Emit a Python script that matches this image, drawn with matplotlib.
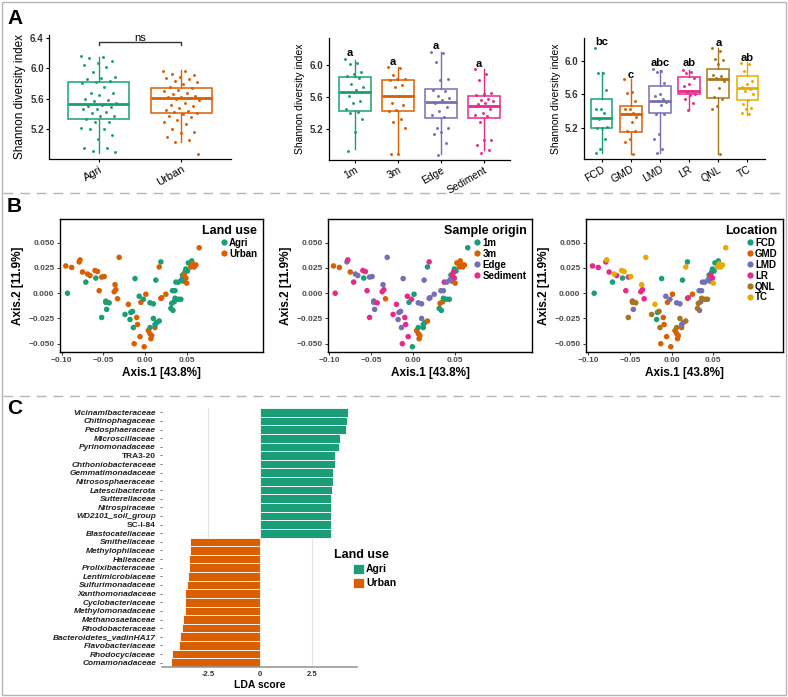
import numpy as np
import matplotlib
matplotlib.use("Agg")
import matplotlib.pyplot as plt
from matplotlib.lines import Line2D
from matplotlib.patches import Rectangle

plt.rcParams['font.family'] = ['Liberation Sans', 'DejaVu Sans']

W, H = 788, 697

GREEN, ORANGE, PURPLE = '#1B9E77', '#D95F02', '#7570B3'
PINK, BROWN, YELLOW = '#E7298A', '#A6761D', '#E6AB02'

# ---- panel A: Shannon diversity ----
# box stats: (whislo, q1, median, q3, whishi)
landuse = ['Agri', 'Urban']
landuse_box = [(4.89, 5.34, 5.53, 5.825, 6.15), (5.03, 5.42, 5.61, 5.74, 5.98)]
agri_pts = [6.16, 6.15, 6.13, 6.10, 6.07, 6.04, 6.02, 5.95, 5.88, 5.87, 5.86, 5.83, 5.82,
            5.81, 5.76, 5.68, 5.67, 5.65, 5.60, 5.59, 5.57, 5.55, 5.52, 5.50, 5.49, 5.47,
            5.46, 5.43, 5.41, 5.38, 5.37, 5.34, 5.30, 5.29, 5.22, 5.21, 5.20, 5.13, 5.07,
            4.95, 4.95, 4.91, 4.90]
urban_pts = [5.97, 5.96, 5.92, 5.91, 5.89, 5.87, 5.86, 5.84, 5.82, 5.80, 5.76, 5.74, 5.72,
             5.70, 5.68, 5.66, 5.64, 5.63, 5.62, 5.61, 5.60, 5.58, 5.55, 5.52, 5.50, 5.48,
             5.45, 5.44, 5.43, 5.42, 5.40, 5.38, 5.36, 5.32, 5.30, 5.27, 5.20, 5.16, 5.15,
             5.10, 5.06, 5.03, 4.88]

origins = ['1m', '3m', 'Edge', 'Sediment']
origin_box = [(4.95, 5.43, 5.67, 5.855, 6.06), (4.89, 5.43, 5.62, 5.81, 5.98),
              (4.89, 5.34, 5.535, 5.70, 6.16), (4.94, 5.34, 5.49, 5.62, 5.95)]
origin_pts = [
    [6.07, 6.03, 6.01, 5.91, 5.89, 5.86, 5.84, 5.76, 5.73, 5.69, 5.62, 5.55, 5.53, 5.45,
     5.42, 5.40, 5.33, 5.17, 4.93],
    [5.98, 5.96, 5.87, 5.83, 5.82, 5.81, 5.75, 5.72, 5.62, 5.61, 5.53, 5.50, 5.44, 5.43,
     5.33, 5.29, 5.21, 4.89, 4.89],
    [6.16, 6.15, 6.04, 5.82, 5.81, 5.69, 5.68, 5.62, 5.59, 5.56, 5.53, 5.48, 5.43, 5.38,
     5.35, 5.22, 5.21, 5.16, 5.14, 5.03, 4.88],
    [5.95, 5.89, 5.81, 5.65, 5.64, 5.63, 5.58, 5.57, 5.55, 5.53, 5.51, 5.45, 5.40, 5.38,
     5.36, 5.29, 5.07, 5.07, 5.01, 4.94, 4.90],
]
origin_letters = ['a', 'a', 'a', 'a']
origin_letter_y = [6.145, 6.04, 6.23, 6.01]

sites = ['FCD', 'GMD', 'LMD', 'LR', 'QNL', 'TC']
site_box = [(4.90, 5.20, 5.32, 5.54, 5.87), (4.88, 5.15, 5.36, 5.46, 5.78),
            (4.90, 5.38, 5.52, 5.70, 5.89), (5.41, 5.60, 5.64, 5.81, 5.89),
            (4.89, 5.56, 5.78, 5.90, 6.16), (5.35, 5.53, 5.68, 5.82, 5.99)]
site_pts = [
    [6.16, 5.86, 5.85, 5.65, 5.43, 5.42, 5.38, 5.30, 5.21, 5.20, 5.20, 5.06, 4.95, 4.90],
    [5.78, 5.63, 5.61, 5.52, 5.43, 5.42, 5.38, 5.36, 5.33, 5.27, 5.16, 5.16, 5.07, 5.03, 4.88],
    [5.90, 5.88, 5.87, 5.74, 5.60, 5.58, 5.54, 5.52, 5.51, 5.47, 5.37, 5.36, 5.12, 5.07,
     4.94, 4.90],
    [5.89, 5.87, 5.85, 5.80, 5.72, 5.70, 5.64, 5.63, 5.60, 5.59, 5.55, 5.50, 5.41],
    [6.15, 6.12, 6.02, 6.01, 5.96, 5.83, 5.82, 5.80, 5.76, 5.67, 5.57, 5.54, 5.46, 5.43, 4.89],
    [5.98, 5.96, 5.88, 5.76, 5.72, 5.69, 5.66, 5.64, 5.60, 5.53, 5.48, 5.44, 5.43, 5.38, 5.36],
]
site_letters = ['bc', 'c', 'abc', 'ab', 'a', 'ab']
site_letter_y = [6.23, 5.83, 5.97, 5.97, 6.22, 6.04]

# ---- panel B: PCoA ----
pc1 = [-0.093, -0.071, -0.059, -0.012, 0.013, 0.019, -0.017, -0.018, 0.045, 0.049, 0.052, 0.056, 0.051, 0.048,
       -0.013, -0.006, -0.009, -0.010, -0.005, 0.001, -0.001, 0.004, 0.006, 0.007, 0.008, 0.012, 0.019, 0.025,
       -0.046, -0.047, -0.007, -0.002, 0.006, 0.010, 0.012, 0.014, 0.0335, 0.035, 0.037, 0.040, 0.044, 0.046, 0.033, 0.036,
       -0.095, -0.088, -0.079, -0.075, -0.066, -0.055, -0.052, -0.047, -0.037, -0.035, -0.033, 0.020, 0.047, 0.049,
       -0.052, -0.047, -0.043, -0.024, -0.015, -0.014, 0.006, 0.010, 0.017, 0.031, 0.032, 0.036, 0.040, 0.043,
       -0.078, -0.069, -0.060, -0.057, -0.049, -0.036, -0.031, -0.020, 0.017, 0.050, 0.055, 0.061, 0.065, 0.059, 0.057]
pc2 = [0.000, 0.011, 0.015, 0.0145, 0.013, 0.031, -0.019, -0.026, 0.018, 0.024, 0.030, 0.032, 0.022, 0.021,
       -0.050, -0.043, -0.031, -0.024, -0.009, -0.001, -0.053, -0.037, -0.040, -0.045, -0.042, -0.034, -0.005, -0.001,
       -0.016, -0.008, -0.003, -0.006, -0.0095, -0.0105, -0.031, -0.029, -0.017, -0.0085, 0.011, 0.011, 0.0135, 0.012, 0.0025, 0.0025,
       0.027, 0.0255, 0.031, 0.021, 0.0175, 0.0025, 0.016, -0.008, 0.0015, 0.0035, -0.0055, -0.0045, 0.018, 0.015,
       -0.024, -0.009, -0.0095, -0.021, -0.018, -0.034, -0.034, -0.025, -0.0275, -0.015, -0.010, -0.005, -0.006, -0.006,
       0.033, 0.019, 0.0225, 0.0215, 0.0165, 0.0085, 0.0355, -0.011, 0.026, 0.010, 0.026, 0.028, 0.045, 0.026, 0.029]
pc_site = ['FCD'] * 14 + ['GMD'] * 14 + ['LMD'] * 16 + ['LR'] * 14 + ['QNL'] * 14 + ['TC'] * 15
pc_origin = ['Sediment', 'Sediment', '1m', 'Edge', 'Edge', 'Sediment', 'Edge', 'Edge', '1m', '1m', '3m', '3m', '1m', 'Sediment',
             'Sediment', 'Sediment', 'Sediment', 'Sediment', '1m', '1m', '1m', '3m', '3m', '3m', '3m', '1m', 'Edge', 'Edge',
             'Edge', 'Edge', 'Sediment', 'Sediment', 'Edge', 'Edge', '1m', '1m', '1m', '3m', 'Sediment', 'Edge', 'Edge', 'Edge', 'Edge', 'Edge',
             '3m', '3m', 'Edge', '3m', 'Edge', 'Sediment', 'Edge', 'Sediment', 'Sediment', 'Sediment', '3m', 'Edge', 'Sediment', 'Sediment',
             'Sediment', 'Edge', 'Sediment', 'Sediment', 'Edge', 'Edge', '1m', 'Edge', '3m', '1m', '3m', '1m', '1m', '1m',
             'Sediment', 'Edge', 'Sediment', 'Sediment', 'Edge', 'Edge', 'Edge', 'Sediment', '1m', '3m', '3m', '3m', '1m', '3m', '3m']
site_landuse = {'FCD': 'Agri', 'LMD': 'Agri', 'QNL': 'Agri', 'GMD': 'Urban', 'LR': 'Urban', 'TC': 'Urban'}

# ---- panel C: LEfSe ----
taxa = ['Vicinamibacteraceae', 'Chitinophagaceae', 'Pedosphaeraceae', 'Microscillaceae',
        'Pyrinomonadaceae', 'TRA3-20', 'Chthoniobacteraceae', 'Gemmatimonadaceae',
        'Nitrososphaeraceae', 'Latescibacterota', 'Sutterellaceae', 'Nitrospiraceae',
        'WD2101_soil_group', 'SC-I-84', 'Blastocatellaceae',
        'Smithellaceae', 'Methylophilaceae', 'Halieaceae', 'Prolixibacteraceae',
        'Lentimicrobiaceae', 'Sulfurimonadaceae', 'Xanthomonadaceae', 'Cyclobacteriaceae',
        'Methylomonadaceae', 'Methanosaetaceae', 'Rhodobacteraceae', 'Bacteroidetes_vadinHA17',
        'Flavobacteriaceae', 'Rhodocyclaceae', 'Comamonadaceae']
lda = [4.19, 4.17, 4.11, 3.83, 3.77, 3.59, 3.57, 3.48, 3.48, 3.44, 3.40, 3.39, 3.38, 3.38, 3.38,
       -3.34, -3.36, -3.39, -3.41, -3.46, -3.47, -3.57, -3.58, -3.60, -3.69, -3.71, -3.84,
       -3.87, -4.20, -4.28]
upright_taxa = ['TRA3-20', 'SC-I-84']


def px_axes(fig, x0, y0, x1, y1):
    return fig.add_axes([x0 / W, 1 - y1 / H, (x1 - x0) / W, (y1 - y0) / H])


def spread(n, width=0.22):
    # fixed, repeatable horizontal spread for the dots
    return ((np.arange(n) * 0.618034) % 1 - 0.5) * 2 * width


def box_panel(ax, names, stats, points, colors, ylim, yticks, lab_size, tick_size):
    pos = np.arange(1, len(names) + 1)
    bx = [dict(whislo=s[0], q1=s[1], med=s[2], q3=s[3], whishi=s[4], fliers=[]) for s in stats]
    art = ax.bxp(bx, positions=pos, widths=0.74, patch_artist=True, showfliers=False,
                 showcaps=False)
    for i, c in enumerate(colors):
        art['boxes'][i].set(facecolor='white', edgecolor=c, linewidth=1.1, zorder=2)
        art['medians'][i].set(color=c, linewidth=2.0, zorder=2)
        art['whiskers'][2 * i].set(color=c, linewidth=1.0)
        art['whiskers'][2 * i + 1].set(color=c, linewidth=1.0)
    for p, vals, c in zip(pos, points, colors):
        ax.scatter(p + spread(len(vals)), vals, s=4.5, color=c, linewidths=0, zorder=3)
    ax.set_xlim(0.4, len(names) + 0.6)
    ax.set_ylim(*ylim)
    ax.set_yticks(yticks)
    ax.set_yticklabels([f'{t:.1f}' for t in yticks], fontsize=7, fontweight='bold', color='#333333')
    ax.set_xticks(pos)
    ax.set_xticklabels(names, rotation=30, ha='right', rotation_mode='anchor', fontsize=tick_size)
    ax.set_ylabel('Shannon diversity index', fontsize=lab_size, labelpad=3)
    for s in ['top', 'right']:
        ax.spines[s].set_visible(False)
    for s in ['left', 'bottom']:
        ax.spines[s].set_linewidth(0.9)
    ax.tick_params(length=2.5, width=0.8, pad=1.5)
    return pos


def pcoa_panel(ax, groups, order, colors, title, xlim):
    cmap = dict(zip(order, colors))
    ax.scatter(pc1, pc2, s=16, c=[cmap[g] for g in groups], linewidths=0, zorder=2)
    ax.set_xlim(*xlim)
    ax.set_ylim(-0.0577, 0.0732)
    ax.set_xticks([-0.10, -0.05, 0.0, 0.05])
    ax.set_xticklabels(['\u22120.10', '\u22120.05', '0.00', '0.05'])
    ax.set_yticks([-0.05, -0.025, 0.0, 0.025, 0.05])
    ax.set_yticklabels(['\u22120.050', '\u22120.025', '0.000', '0.025', '0.050'])
    for lab in ax.get_xticklabels() + ax.get_yticklabels():
        lab.set_fontsize(6)
        lab.set_fontweight('bold')
        lab.set_color('#4d4d4d')
    ax.tick_params(length=2.5, width=0.7, pad=1.5, color='#333333')
    for s in ax.spines.values():
        s.set_linewidth(1.0)
    ax.set_xlabel('Axis.1 [43.8%]', fontsize=8.5, fontweight='bold', labelpad=2)
    ax.set_ylabel('Axis.2 [11.9%]', fontsize=8.5, fontweight='bold', labelpad=3)
    handles = [Line2D([], [], marker='o', ls='none', markersize=4.5, markeredgewidth=0,
                      color=c, label=g) for g, c in zip(order, colors)]
    ax.legend(handles=handles, title=title, loc='upper right', frameon=False,
              alignment='right', prop={'weight': 'bold', 'size': 7},
              title_fontproperties={'weight': 'bold', 'size': 9},
              handletextpad=0.05, handlelength=1.0, labelspacing=0.1,
              borderaxespad=0.15, borderpad=0.4)


fig = plt.figure(figsize=(W / 100, H / 100), dpi=100)

# ---------- A ----------
ax = px_axes(fig, 49.4, 35, 230.6, 158.5)
box_panel(ax, landuse, landuse_box, [agri_pts, urban_pts], [GREEN, ORANGE],
          (4.817, 6.437), [5.2, 5.6, 6.0, 6.4], 8.5, 8)
ax.plot([1, 1, 2, 2], [6.306, 6.35, 6.35, 6.306], color='#333333', lw=1.0)
ax.text(1.5, 6.40, 'ns', ha='center', va='center', fontsize=8)

ax = px_axes(fig, 328.8, 38.3, 510, 159.5)
pos = box_panel(ax, origins, origin_box, origin_pts, [GREEN, ORANGE, PURPLE, PINK],
                (4.824, 6.332), [5.2, 5.6, 6.0], 7.5, 7.5)
for p, t, y in zip(pos, origin_letters, origin_letter_y):
    ax.text(p - 0.12, y, t, ha='center', va='center', fontsize=8, fontweight='bold')

ax = px_axes(fig, 584, 38.3, 765, 158.7)
pos = box_panel(ax, sites, site_box, site_pts, [GREEN, ORANGE, PURPLE, PINK, BROWN, YELLOW],
                (4.828, 6.272), [5.2, 5.6, 6.0], 7.5, 7.5)
for p, t, y in zip(pos, site_letters, site_letter_y):
    ax.text(p, y, t, ha='center', va='center', fontsize=8, fontweight='bold')

# ---------- B ----------
ax = px_axes(fig, 60, 219.3, 262.7, 351.5)
pcoa_panel(ax, [site_landuse[s] for s in pc_site], landuse, [GREEN, ORANGE], 'Land use',
           (-0.102, 0.1412))
ax = px_axes(fig, 328.3, 219.3, 531.7, 351.5)
pcoa_panel(ax, pc_origin, origins, [GREEN, ORANGE, PURPLE, PINK], 'Sample origin',
           (-0.1012, 0.1412))
ax = px_axes(fig, 586, 219.3, 783, 351.5)
pcoa_panel(ax, pc_site, sites, [GREEN, ORANGE, PURPLE, PINK, BROWN, YELLOW], 'Location',
           (-0.1028, 0.1337))

# ---------- C ----------
ax = px_axes(fig, 162, 408, 357, 667)
ypos = np.arange(len(taxa))[::-1]
bar_colors = [GREEN if v > 0 else ORANGE for v in lda]
ax.barh(ypos, lda, height=1.0, color=bar_colors, edgecolor='white', linewidth=0.6, zorder=2)
ax.set_ylim(-0.5, len(taxa) - 0.5)
ax.set_xlim(-4.69, 4.64)
ax.set_xticks([-2.5, 0, 2.5])
ax.set_xticklabels(['-2.5', '0', '2.5'], fontsize=5.5, fontweight='bold', color='#333333')
ax.set_yticks(ypos)
ax.set_yticklabels(taxa, fontsize=6, fontweight='bold', color='#222222')
for lab in ax.get_yticklabels():
    if lab.get_text() not in upright_taxa:
        lab.set_fontstyle('italic')
ax.grid(axis='x', color='#e3e3e3', linewidth=0.8, zorder=0)
ax.set_axisbelow(True)
for s in ['top', 'right', 'left']:
    ax.spines[s].set_visible(False)
ax.spines['bottom'].set_color('#9a9a9a')
ax.spines['bottom'].set_linewidth(1.2)
ax.tick_params(axis='y', length=1.8, width=0.6, color='#555555', pad=2.5)
ax.tick_params(axis='x', length=0, pad=3)
ax.set_xlabel('LDA score', fontsize=7.5, fontweight='bold', labelpad=1)

# legend for C
fig.text(334 / W, 1 - 555 / H, 'Land use', fontsize=9, fontweight='bold', va='center')
for yk, lab, c in [(563.5, 'Agri', GREEN), (577.5, 'Urban', ORANGE)]:
    fig.add_artist(Rectangle((353 / W, 1 - (yk + 10.5) / H), 10.5 / W, 10.5 / H,
                             facecolor=c, edgecolor='white', lw=0.5, transform=fig.transFigure))
    fig.text(366 / W, 1 - (yk + 6) / H, lab, fontsize=7.5, fontweight='bold', va='center')

# ---------- panel letters, frame, separators ----------
for letter, yc in [('A', 18), ('B', 206), ('C', 409)]:
    fig.text(7 / W, 1 - yc / H, letter, fontsize=15, fontweight='bold', va='center')

fig.add_artist(Rectangle((2 / W, 2 / H), 783.5 / W, 693 / H, fill=False,
                         edgecolor='#b5b5b5', lw=1.0, transform=fig.transFigure))
for yl in [193, 396]:
    fig.add_artist(Line2D([3 / W, 785 / W], [1 - yl / H] * 2, color='#b5b5b5', lw=1.0,
                          dashes=(7, 5), transform=fig.transFigure))

fig.savefig('out.png', dpi=100)
